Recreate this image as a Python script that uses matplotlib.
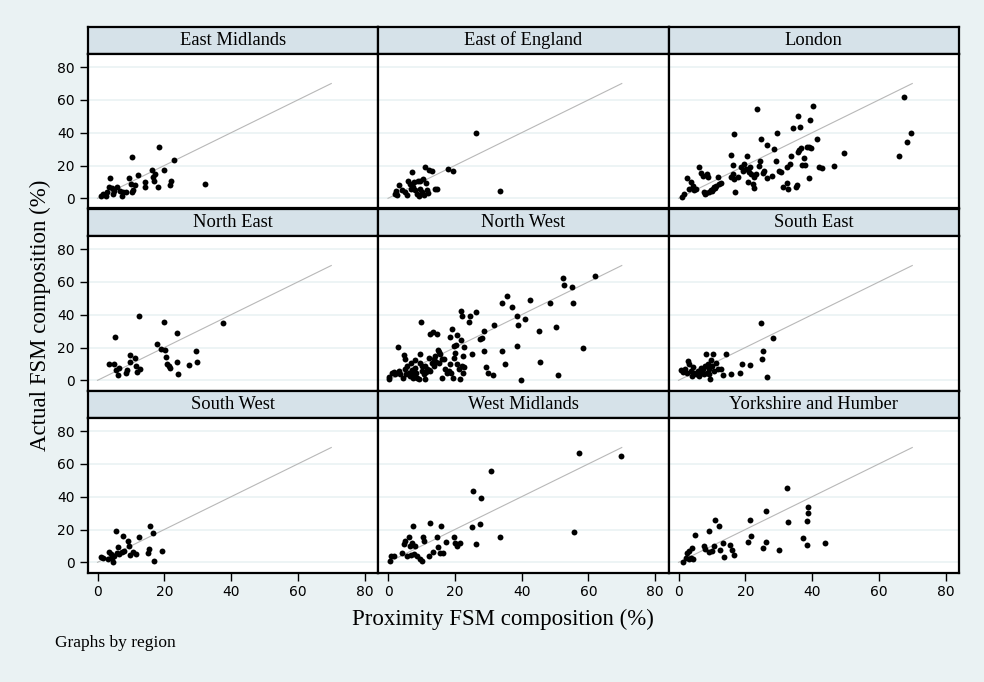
import matplotlib
matplotlib.use("Agg")
import matplotlib.pyplot as plt

# region names, in panel order
regions = ["East Midlands", "East of England", "London",
           "North East", "North West", "South East",
           "South West", "West Midlands", "Yorkshire and Humber"]

# proximity (x) and actual (y) FSM composition, %
em_x = [1.1, 2.7, 2.4, 3.7, 4.2, 4.6, 5.7, 6.7, 7.4, 7.7, 8.6, 9.4, 9.9, 10.4, 10.7, 10.4, 11.1,
        12.1, 14.2, 14.2, 16.4, 16.7, 16.9, 17.1, 18.0, 18.3, 19.8, 21.6, 21.9, 22.8, 32.1, 4.9, 1.7, 3.4]
em_y = [1.2, 3.8, 1.2, 12.4, 6.2, 2.4, 7.2, 4.4, 1.2, 3.8, 4.0, 12.4, 8.8, 3.6, 4.8, 25.0, 8.4,
        14.4, 9.8, 7.2, 17.4, 13.2, 10.8, 14.8, 7.2, 31.6, 17.4, 8.0, 10.8, 23.6, 8.8, 4.4, 2.8, 6.8]

ee_x = [2.2, 2.5, 3.4, 4.2, 5.2, 5.7, 6.0, 6.5, 7.2, 7.5, 7.9, 8.2, 8.7, 9.0, 9.2, 9.7, 10.2,
        10.5, 10.7, 11.2, 11.5, 11.7, 11.9, 12.2, 13.2, 14.2, 14.7, 17.9, 19.4, 26.4, 33.4, 2.7, 6.9, 9.7]
ee_y = [2.8, 4.4, 8.0, 4.8, 3.8, 2.0, 10.8, 8.8, 16.2, 6.8, 9.8, 4.8, 2.8, 10.4, 1.2, 10.8, 3.8,
        11.6, 1.8, 18.8, 9.2, 4.8, 3.2, 17.4, 16.8, 5.6, 5.6, 17.8, 16.8, 39.8, 4.2, 1.8, 5.8, 5.8]

lon_x = [1.0, 1.7, 2.4, 3.2, 3.7, 4.2, 4.7, 5.2, 6.0, 6.7, 7.2, 7.7, 8.0, 8.5, 8.7, 9.2, 9.7,
         10.2, 10.7, 11.2, 11.7, 12.2, 12.7, 15.7, 15.7, 16.2, 16.4, 16.5, 16.7, 16.9, 17.7, 18.7,
         19.2, 19.7, 20.2, 20.5, 20.7, 21.0, 21.4, 21.7, 22.2, 22.7, 22.7, 23.2, 23.6, 24.2, 24.5,
         24.7, 25.2, 25.7, 26.4, 26.6, 27.9, 28.5, 29.2, 29.5, 30.2, 30.7, 31.4, 32.4, 32.7, 32.5,
         33.5, 33.7, 34.4, 35.2, 35.4, 35.7, 35.8, 36.2, 36.5, 36.7, 37.0, 37.7, 38.0, 38.4, 39.2,
         39.2, 39.5, 39.7, 40.3, 41.4, 42.2, 43.0, 46.6, 49.6, 65.9, 67.4, 68.5, 69.6, 8.2, 10.0, 11.0]
lon_y = [0.8, 2.8, 12.4, 5.8, 9.8, 7.8, 4.8, 5.8, 19.2, 15.2, 13.8, 3.8, 2.4, 14.6, 13.2, 3.8, 4.8,
         5.8, 7.2, 7.8, 13.2, 8.8, 9.2, 26.4, 12.8, 14.8, 20.4, 39.2, 11.8, 4.0, 12.8, 18.8,
         16.8, 20.8, 17.8, 25.8, 9.8, 15.8, 18.8, 14.8, 8.8, 6.4, 12.8, 14.8, 54.6, 19.8, 22.8,
         36.2, 15.2, 16.8, 12.4, 32.4, 13.8, 30.2, 22.8, 39.8, 16.8, 15.8, 6.8, 9.4, 5.8, 18.8,
         21.2, 25.6, 42.8, 6.8, 8.4, 28.2, 50.2, 29.2, 43.2, 30.8, 20.4, 24.4, 20.4, 31.2, 12.4,
         31.2, 47.8, 30.8, 56.0, 36.2, 19.2, 18.4, 19.8, 27.8, 25.8, 62.0, 34.6, 39.8, 3.2, 4.2, 6.0]

ne_x = [3.4, 4.9, 5.2, 5.4, 6.1, 6.4, 8.6, 8.9, 9.7, 9.7, 11.2, 11.4, 11.7, 12.4, 12.7, 17.7,
        19.1, 19.9, 20.1, 20.5, 20.7, 21.4, 21.7, 23.9, 23.9, 24.2, 27.5, 29.4, 29.8, 37.7]
ne_y = [9.8, 9.8, 26.5, 6.3, 3.1, 7.3, 4.7, 6.1, 15.3, 11.4, 13.5, 8.8, 5.3, 39.4, 6.7, 22.0,
        19.0, 35.7, 18.6, 14.3, 9.8, 8.8, 7.8, 11.4, 28.8, 3.7, 9.2, 17.6, 11.4, 34.9]

nw_x = [0.2, 0.2, 1.2, 2.9, 3.2, 3.7, 4.5, 4.9, 5.2, 5.2, 5.7, 6.2, 6.5, 6.9, 7.2, 7.7, 8.2, 8.2,
        8.7, 9.2, 9.5, 9.7, 10.0, 10.2, 10.7, 11.2, 11.2, 11.7, 12.2, 12.5, 12.7, 13.2, 13.5, 13.9,
        14.2, 14.7, 14.9, 15.2, 15.7, 16.2, 16.7, 17.2, 17.7, 18.5, 18.7, 19.2, 19.4, 19.7, 19.7,
        20.5, 20.7, 21.2, 21.5, 21.9, 21.9, 22.2, 22.2, 22.5, 22.7, 22.9, 24.2, 24.5, 25.3, 26.4,
        27.5, 28.2, 28.6, 28.7, 29.4, 29.9, 31.5, 31.6, 34.2, 34.2, 35.0, 35.7, 37.2, 38.7, 38.7,
        39.0, 39.7, 40.9, 42.4, 45.2, 45.4, 48.4, 50.2, 50.9, 52.4, 52.8, 55.1, 55.4, 58.3, 62.0,
        1.7, 2.2, 5.5, 7.5, 8.5, 10.2, 11.5, 12.2, 13.7, 14.5, 15.2, 16.2, 18.2, 18.9, 20.2, 20.7, 22.5]
nw_y = [0.6, 2.2, 4.7, 20.6, 5.7, 3.7, 1.6, 15.3, 12.9, 6.7, 8.8, 4.7, 2.7, 10.8, 6.3, 3.7, 12.4, 7.8,
        1.6, 0.6, 15.9, 10.8, 35.7, 5.7, 3.7, 0.6, 8.8, 6.7, 13.9, 28.2, 5.7, 10.8, 29.6, 12.9,
        14.9, 28.2, 18.6, 10.8, 15.9, 1.6, 12.9, 6.7, 4.7, 26.5, 9.8, 31.2, 1.6, 13.9, 21.0,
        21.4, 27.6, 6.7, 1.0, 24.3, 42.4, 39.4, 8.8, 14.9, 20.4, 8.4, 35.7, 39.4, 15.9, 41.6,
        25.1, 25.7, 17.6, 30.2, 8.4, 4.7, 3.1, 33.7, 17.6, 46.9, 9.8, 51.6, 44.9, 39.4, 21.0,
        33.9, 0.0, 37.1, 49.2, 30.2, 11.4, 46.9, 32.4, 3.1, 62.2, 58.4, 56.9, 46.9, 19.6, 63.7,
        5.1, 3.7, 3.7, 1.6, 4.7, 8.8, 5.1, 6.3, 8.8, 11.2, 17.3, 12.9, 5.7, 4.7, 16.9, 9.8, 4.7]

se_x = [0.7, 1.4, 2.0, 2.4, 2.7, 3.2, 3.7, 4.0, 4.4, 4.7, 5.2, 5.7, 6.2, 6.7, 7.0, 7.4, 7.7, 8.0,
        8.2, 8.4, 8.7, 9.0, 9.2, 9.4, 9.7, 10.0, 10.4, 10.7, 11.2, 11.7, 12.7, 13.2, 14.2, 15.7,
        18.4, 19.0, 21.4, 24.7, 25.0, 25.4, 26.5, 28.4]
se_y = [6.3, 5.1, 6.7, 4.3, 12.0, 10.0, 5.7, 2.7, 8.4, 4.7, 3.7, 5.7, 2.7, 7.8, 4.7, 6.7, 3.7, 8.8,
        15.9, 4.7, 9.8, 3.7, 6.7, 0.6, 12.4, 8.8, 15.9, 5.7, 10.8, 6.7, 7.1, 3.1, 15.9, 3.7,
        4.7, 9.8, 9.2, 34.9, 12.9, 17.6, 2.2, 25.7]

sw_x = [1.0, 1.7, 3.0, 3.5, 4.0, 4.3, 4.7, 5.0, 5.5, 5.7, 6.0, 6.5, 7.3, 7.5, 8.0, 9.0, 9.5, 9.7,
        10.5, 11.5, 12.3, 15.0, 15.3, 15.7, 16.7, 16.9, 19.4]
sw_y = [3.5, 2.9, 1.8, 6.3, 4.9, 2.9, 0.2, 3.9, 19.2, 5.9, 9.4, 4.9, 6.3, 16.1, 6.9, 13.1, 10.0, 4.3,
        6.3, 5.3, 15.5, 5.9, 8.0, 22.2, 17.8, 0.8, 6.9]

wm_x = [0.5, 0.9, 1.9, 4.2, 4.9, 5.2, 5.7, 6.2, 6.5, 6.9, 7.2, 7.4, 7.7, 8.2, 8.7, 9.7, 10.2, 10.5,
        10.9, 12.2, 12.7, 13.5, 14.7, 14.9, 15.5, 16.0, 16.5, 17.5, 19.7, 20.2, 20.7, 21.5, 25.2,
        25.5, 26.4, 27.5, 27.9, 30.8, 33.4, 55.7, 57.2, 69.7]
wm_y = [0.8, 3.9, 3.9, 5.9, 11.0, 13.1, 3.9, 15.5, 10.0, 4.3, 12.0, 22.2, 4.9, 10.0, 3.9, 1.8, 0.8, 15.5,
        13.1, 3.9, 23.7, 6.3, 15.5, 9.6, 5.9, 22.2, 5.5, 12.4, 15.5, 12.0, 10.0, 11.6, 21.6,
        43.5, 11.0, 23.1, 39.0, 55.7, 15.5, 18.6, 66.9, 64.7]

yh_x = [1.2, 2.2, 2.5, 3.0, 3.2, 3.7, 4.0, 4.4, 5.0, 7.7, 8.0, 9.0, 9.2, 10.0, 10.7, 10.9, 12.0,
        12.4, 13.2, 13.5, 15.4, 16.0, 16.5, 20.9, 21.3, 21.7, 25.3, 26.1, 26.2, 30.2, 32.5, 32.9,
        37.3, 38.4, 38.5, 38.7, 38.8, 44.0]
yh_y = [0.0, 2.9, 5.5, 6.9, 1.8, 2.9, 9.0, 1.8, 16.7, 10.0, 8.0, 19.2, 6.3, 6.9, 10.0, 26.1, 22.4,
        7.6, 12.0, 3.3, 10.8, 7.3, 4.3, 12.2, 26.1, 16.1, 8.6, 31.2, 12.4, 7.8, 45.1, 24.5,
        14.7, 25.3, 10.8, 29.8, 33.7, 11.6]

xs = [em_x, ee_x, lon_x, ne_x, nw_x, se_x, sw_x, wm_x, yh_x]
ys = [em_y, ee_y, lon_y, ne_y, nw_y, se_y, sw_y, wm_y, yh_y]

ticks = [0, 20, 40, 60, 80]

W, H = 984, 682
bg = (234/255, 242/255, 243/255)
strip_col = (214/255, 226/255, 233/255)
serif = "Liberation Serif"

fig = plt.figure(figsize=(W/100, H/100), dpi=100, facecolor=bg)

col_left = [87.5, 378, 668.5]
col_w = 290.5
row_top = [27, 209, 391]
strip_h = 27
plot_h = 154.5


def box(l, t, w, h):
    return [l / W, 1 - (t + h) / H, w / W, h / H]


for i, name in enumerate(regions):
    r, c = divmod(i, 3)
    # strip with region name
    sax = fig.add_axes(box(col_left[c], row_top[r], col_w, strip_h))
    sax.set_facecolor(strip_col)
    sax.set_xticks([])
    sax.set_yticks([])
    for s in sax.spines.values():
        s.set_linewidth(1.6)
    sax.text(0.5, 0.5, name, ha="center", va="center", family=serif, fontsize=13.3,
             transform=sax.transAxes)

    ax = fig.add_axes(box(col_left[c], row_top[r] + strip_h, col_w, plot_h))
    ax.set_facecolor("white")
    ax.set_xlim(-3, 84)
    ax.set_ylim(-6.2, 88)
    ax.set_xticks(ticks)
    ax.set_yticks(ticks)
    ax.yaxis.grid(True, color=bg, lw=1.2)
    ax.set_axisbelow(True)
    for s in ax.spines.values():
        s.set_linewidth(1.6)
    ax.plot([0, 70], [0, 70], color="#b8b8b8", lw=0.8, zorder=2)
    ax.scatter(xs[i], ys[i], s=18, color="black", zorder=3, linewidths=0)
    ax.tick_params(length=6, width=1, labelsize=10, pad=3)
    if c != 0:
        ax.tick_params(axis="y", left=False, labelleft=False)
    if r != 2:
        ax.tick_params(axis="x", bottom=False, labelbottom=False)

fig.text(40 / W, 1 - 315 / H, "Actual FSM composition (%)", rotation=90, ha="center", va="center",
         family=serif, fontsize=16.5)
fig.text(503 / W, 1 - 619 / H, "Proximity FSM composition (%)", ha="center", va="center",
         family=serif, fontsize=16.5)
fig.text(55 / W, 1 - 643 / H, "Graphs by region", ha="left", va="center",
         family=serif, fontsize=12.5)

plt.savefig("out.png", dpi=100, facecolor=bg)
plt.close()
